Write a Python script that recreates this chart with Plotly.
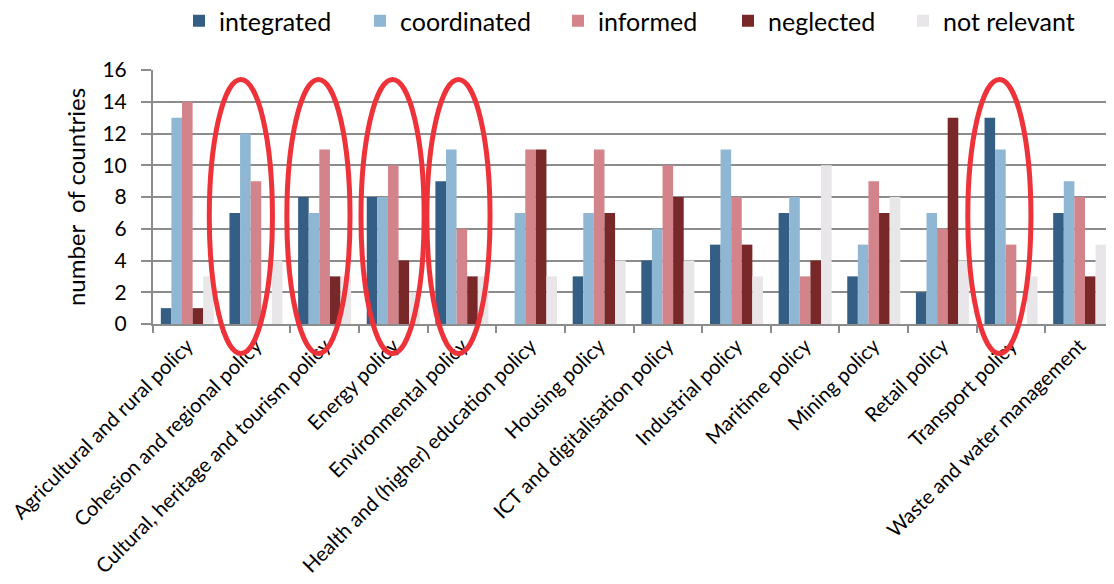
import plotly.graph_objects as go

categories = [
    "Agricultural and rural policy",
    "Cohesion and regional policy",
    "Cultural, heritage and tourism policy",
    "Energy policy",
    "Environmental policy",
    "Health and (higher) education policy",
    "Housing policy",
    "ICT and digitalisation policy",
    "Industrial policy",
    "Maritime policy",
    "Mining policy",
    "Retail policy",
    "Transport policy",
    "Waste and water management",
]

integrated   = [1, 7, 8, 8, 9, 0, 3, 4, 5, 7, 3, 2, 13, 7]
coordinated  = [13, 12, 7, 8, 11, 7, 7, 6, 11, 8, 5, 7, 11, 9]
informed     = [14, 9, 11, 10, 6, 11, 11, 10, 8, 3, 9, 6, 5, 8]
neglected    = [1, 0, 3, 4, 3, 11, 7, 8, 5, 4, 7, 13, 0, 3]
not_relevant = [3, 4, 3, 2, 3, 3, 4, 4, 3, 10, 8, 4, 3, 5]

series_names = ["integrated", "coordinated", "informed", "neglected", "not relevant"]
series_values = [integrated, coordinated, informed, neglected, not_relevant]
series_colors = ["#345e83", "#8fb7d3", "#d3838a", "#782828", "#e8e6e8"]

y_ticks = [0, 2, 4, 6, 8, 10, 12, 14, 16]

# legend entry left edges (px from figure left)
legend_lefts = [171, 352, 550, 720, 895]

# highlighted categories (ellipses): centre in category units, half width, y top/bottom in data units
highlight_centres = [0.78, 1.91, 2.99, 3.95, 11.83]
highlight_halfwidth = 0.46
highlight_ytop = 15.4
highlight_ybottom = -1.86

FONT = "Lato, Carlito, Open Sans, sans-serif"
GRID = "#8c8c8c"
W, H = 1106, 576

fig = go.Figure()
legend_layouts = {}
for i, (name, vals, col) in enumerate(zip(series_names, series_values, series_colors)):
    lg = "legend" if i == 0 else f"legend{i + 1}"
    fig.add_trace(go.Bar(
        name=name, x=categories, y=vals,
        marker=dict(color=col, line=dict(width=0)),
        legend=lg,
    ))
    legend_layouts[lg] = dict(
        orientation="h", xref="container", yref="container",
        x=legend_lefts[i] / W, xanchor="left", y=1 - 13 / H, yanchor="middle",
        font=dict(size=25, family=FONT),
        bgcolor="rgba(0,0,0,0)",
    )

n = len(categories)
ymin, ymax = y_ticks[0], y_ticks[-1]
shapes = []
for c in highlight_centres:
    shapes.append(dict(
        type="circle",
        xref="x domain", yref="y domain",
        x0=(c - highlight_halfwidth + 0.5) / n,
        x1=(c + highlight_halfwidth + 0.5) / n,
        y0=(highlight_ybottom - ymin) / (ymax - ymin),
        y1=(highlight_ytop - ymin) / (ymax - ymin),
        line=dict(color="#ee3239", width=5),
        layer="above",
    ))

fig.update_layout(
    width=W, height=H,
    margin=dict(l=145, r=0, t=62, b=260, autoexpand=False),
    paper_bgcolor="white", plot_bgcolor="white",
    barmode="group", bargap=0.228, bargroupgap=0,
    font=dict(family=FONT, color="black", size=18),
    showlegend=True,
    shapes=shapes,
    xaxis=dict(
        type="category", range=[-0.5, n - 0.5],
        tickangle=-45, tickson="boundaries",
        ticks="outside", ticklen=7, tickwidth=2, tickcolor=GRID,
        showline=True, linecolor=GRID, linewidth=2,
        showgrid=False, tickfont=dict(size=20.3, family=FONT),
    ),
    yaxis=dict(
        range=[ymin, ymax], tickvals=y_ticks,
        ticks="outside", ticklen=10, tickwidth=2, tickcolor=GRID,
        ticklabelstandoff=10,
        showline=True, linecolor=GRID, linewidth=2,
        showgrid=True, gridcolor=GRID, gridwidth=2,
        zeroline=False,
        tickfont=dict(size=21, family=FONT),
        title=dict(text="number  of countries", font=dict(size=24, family=FONT), standoff=10),
    ),
    **legend_layouts,
)

fig.write_html("out.html")
